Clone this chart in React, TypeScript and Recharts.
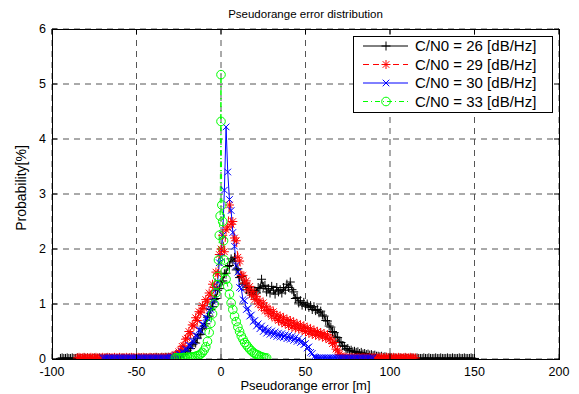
import React from 'react';
import { LineChart, Line, XAxis, YAxis, CartesianGrid } from 'recharts';

// ---------- axes / labels ----------
const TITLE = 'Pseudorange error distribution';
const X_LABEL = 'Pseudorange error [m]';
const Y_LABEL = 'Probability[%]';
const X_TICKS = [-100, -50, 0, 50, 100, 150, 200];
const Y_TICKS = [0, 1, 2, 3, 4, 5, 6];
const SERIES_NAMES = ['C/N0 = 26 [dB/Hz]', 'C/N0 = 29 [dB/Hz]', 'C/N0 = 30 [dB/Hz]', 'C/N0 = 33 [dB/Hz]'];

// ---------- series values (1 m bins) ----------
// C/N0 = 26, bins from -95 m to 150 m
const BLACK_START = -95;
const blackY = [
  0.01, 0.02, 0.01, 0.01, 0.02, 0.01, 0.01, 0.02, 0.01, 0.01,
  0.02, 0.01, 0.01, 0.01, 0.02, 0.01, 0.02, 0.01, 0.01, 0.01,
  0.02, 0.01, 0.01, 0.02, 0.01, 0.01, 0.01, 0.02, 0.01, 0.02,
  0.01, 0.01, 0.02, 0.01, 0.01, 0.02, 0.01, 0.02, 0.01, 0.01,
  0.01, 0.02, 0.01, 0.02, 0.01, 0.02, 0.01, 0.02, 0.02, 0.01,
  0.02, 0.02, 0.01, 0.02, 0.02, 0.02, 0.02, 0.03, 0.02, 0.02,
  0.03, 0.02, 0.03, 0.03, 0.03,
  // -30 .. -1
  0.03, 0.02, 0.05, 0.04, 0.06, 0.05, 0.08, 0.1, 0.09, 0.13,
  0.16, 0.2, 0.19, 0.26, 0.3, 0.29, 0.38, 0.44, 0.45, 0.55,
  0.6, 0.64, 0.76, 0.78, 0.9, 0.95, 1.08, 1.1, 1.25, 1.28,
  // 0 .. 20
  1.4, 1.42, 1.55, 1.56, 1.68, 1.7, 1.82, 1.78, 1.85, 1.62,
  1.64, 1.48, 1.5, 1.36, 1.38, 1.26, 1.3, 1.2, 1.25, 1.17, 1.24,
  // 21 .. 45
  1.2, 1.3, 1.28, 1.45, 1.32, 1.34, 1.22, 1.28, 1.2, 1.32,
  1.25, 1.18, 1.3, 1.22, 1.26, 1.2, 1.3, 1.25, 1.36, 1.3,
  1.4, 1.26, 1.22, 1.1, 1.12,
  // 46 .. 75
  1.02, 1.06, 0.98, 1.03, 0.96, 1.0, 0.94, 0.97, 0.9, 0.95,
  0.88, 0.9, 0.84, 0.87, 0.8, 0.78, 0.7, 0.69, 0.6, 0.58,
  0.5, 0.48, 0.4, 0.39, 0.31, 0.3, 0.24, 0.23, 0.18, 0.19,
  // 76 .. 100
  0.15, 0.16, 0.13, 0.14, 0.12, 0.13, 0.1, 0.12, 0.09, 0.1,
  0.08, 0.09, 0.07, 0.08, 0.06, 0.07, 0.05, 0.05, 0.04, 0.05,
  0.03, 0.04, 0.03, 0.02, 0.03,
  // 101 .. 150
  0.02, 0.01, 0.02, 0.01, 0.01, 0.02, 0.01, 0.01, 0.02, 0.01,
  0.01, 0.01, 0.02, 0.01, 0.01, 0.02, 0.01, 0.01, 0.01, 0.02,
  0.01, 0.01, 0.02, 0.01, 0.01, 0.01, 0.02, 0.01, 0.01, 0.02,
  0.01, 0.01, 0.01, 0.02, 0.01, 0.01, 0.02, 0.01, 0.01, 0.01,
  0.02, 0.01, 0.01, 0.02, 0.01, 0.01, 0.01, 0.02, 0.01, 0.01,
];

// C/N0 = 29, bins from -85 m to 115 m
const RED_START = -85;
const redY = [
  0.02, 0.03, 0.02, 0.02, 0.03, 0.02, 0.02, 0.02, 0.03, 0.02,
  0.02, 0.03, 0.02, 0.02, 0.02, 0.03, 0.02, 0.02, 0.03, 0.02,
  0.02, 0.02, 0.03, 0.02, 0.02, 0.03, 0.02, 0.02, 0.02, 0.03,
  0.02, 0.02, 0.03, 0.02, 0.02, 0.02, 0.03, 0.02, 0.02, 0.03,
  0.02, 0.02, 0.02, 0.03, 0.02, 0.02, 0.03, 0.02, 0.02, 0.02,
  0.03, 0.02, 0.03, 0.02, 0.03,
  // -30 .. -1
  0.03, 0.05, 0.04, 0.08, 0.08, 0.13, 0.15, 0.23, 0.24, 0.36,
  0.38, 0.5, 0.46, 0.62, 0.6, 0.75, 0.7, 0.86, 0.84, 0.97,
  0.92, 1.08, 1.04, 1.2, 1.16, 1.36, 1.3, 1.58, 1.55, 1.9,
  // 0 .. 12
  2.0, 2.25, 1.95, 2.35, 2.4, 2.8, 2.45, 2.5, 2.2, 2.15, 1.85, 1.78, 1.52,
  // 13 .. 72
  1.52, 1.38, 1.42, 1.26, 1.32, 1.16, 1.23, 1.08, 1.14, 1.0,
  1.06, 0.94, 1.02, 0.88, 0.95, 0.83, 0.9, 0.78, 0.86, 0.74,
  0.8, 0.7, 0.78, 0.66, 0.75, 0.64, 0.72, 0.61, 0.7, 0.58,
  0.67, 0.56, 0.64, 0.55, 0.62, 0.52, 0.6, 0.5, 0.57, 0.47,
  0.55, 0.45, 0.52, 0.43, 0.5, 0.42, 0.48, 0.4, 0.46, 0.38,
  0.44, 0.35, 0.38, 0.28, 0.3, 0.18, 0.16, 0.08, 0.06, 0.03,
  // 73 .. 115
  0.02, 0.03, 0.02, 0.02, 0.03, 0.02, 0.02, 0.02, 0.03, 0.02,
  0.02, 0.03, 0.02, 0.02, 0.02, 0.03, 0.02, 0.02, 0.03, 0.02,
  0.02, 0.02, 0.03, 0.02, 0.02, 0.03, 0.02, 0.02, 0.02, 0.03,
  0.02, 0.02, 0.03, 0.02, 0.02, 0.02, 0.03, 0.02, 0.02, 0.03,
  0.02, 0.02, 0.02,
];

// C/N0 = 30, bins from -70 m to 90 m
const BLUE_START = -70;
const blueY = [
  0.02, 0.02, 0.02, 0.02, 0.02, 0.02, 0.02, 0.02, 0.02, 0.02,
  0.02, 0.02, 0.02, 0.02, 0.02, 0.02, 0.02, 0.02, 0.02, 0.02,
  0.02, 0.02, 0.02, 0.02, 0.02, 0.02, 0.02, 0.02, 0.02, 0.02,
  0.02, 0.02, 0.02, 0.02, 0.02, 0.02, 0.02, 0.02, 0.02, 0.02,
  // -30 .. -1
  0.03, 0.04, 0.03, 0.06, 0.05, 0.09, 0.08, 0.13, 0.12, 0.18,
  0.17, 0.25, 0.24, 0.33, 0.32, 0.43, 0.42, 0.53, 0.52, 0.63,
  0.62, 0.75, 0.74, 0.88, 0.9, 1.05, 1.08, 1.28, 1.4, 1.75,
  // 0 .. 20
  1.85, 2.25, 3.07, 4.22, 3.4, 2.9, 2.7, 2.3, 2.05, 1.7,
  1.58, 1.3, 1.28, 1.08, 1.06, 0.9, 0.92, 0.78, 0.8, 0.68, 0.7,
  // 21 .. 56
  0.6, 0.64, 0.55, 0.6, 0.5, 0.56, 0.47, 0.53, 0.45, 0.51,
  0.43, 0.49, 0.41, 0.47, 0.4, 0.46, 0.39, 0.44, 0.37, 0.43,
  0.36, 0.41, 0.34, 0.39, 0.32, 0.37, 0.3, 0.33, 0.26, 0.28,
  0.2, 0.22, 0.12, 0.1, 0.04, 0.03,
  // 57 .. 90
  0.02, 0.02, 0.02, 0.02, 0.02, 0.02, 0.02, 0.02, 0.02, 0.02,
  0.02, 0.02, 0.02, 0.02, 0.02, 0.02, 0.02, 0.02, 0.02, 0.02,
  0.02, 0.02, 0.02, 0.02, 0.02, 0.02, 0.02, 0.02, 0.02, 0.02,
  0.02, 0.02, 0.02, 0.02,
];

// C/N0 = 33, finer bins near the spike
const greenX = [
  -27, -26, -25, -24, -23, -22, -21, -20, -19, -18, -17, -16, -15, -14, -13, -12, -11, -10,
  -9, -8, -7, -6, -5, -4, -3, -2.5, -2, -1.5, -1, -0.5, 0, 0, 0.5, 1, 1.5, 2, 2.5, 3,
  4, 5, 6, 7, 8, 9, 10, 11, 12, 13, 14, 15, 16, 17, 18, 19, 20, 21, 22, 23, 24, 25, 26, 27,
];
const greenY = [
  0.02, 0.02, 0.02, 0.02, 0.02, 0.03, 0.02, 0.03, 0.03, 0.03, 0.04, 0.04, 0.05, 0.06, 0.07, 0.09, 0.12, 0.16,
  0.22, 0.32, 0.48, 0.65, 0.82, 1.0, 1.2, 1.35, 1.5, 1.8, 2.25, 2.6, 5.17, 4.32, 2.8, 2.5, 2.15, 1.8, 1.6, 1.45,
  1.32, 1.18, 1.02, 0.9, 0.78, 0.68, 0.58, 0.5, 0.42, 0.36, 0.3, 0.26, 0.22, 0.18, 0.15, 0.12, 0.1, 0.08, 0.07, 0.05, 0.04, 0.03, 0.02, 0.02,
];

// ---------- build tables ----------
const blackData = blackY.map((y, i) => ({ x: BLACK_START + i, y }));
const redData = redY.map((y, i) => ({ x: RED_START + i, y }));
const blueData = blueY.map((y, i) => ({ x: BLUE_START + i, y }));
const greenData = greenY.map((y, i) => ({ x: greenX[i], y }));

// ---------- layout ----------
const W = 579;
const H = 394;
const PL = 52, PR = 559, PT = 29, PB = 359;
const FONT = '"Liberation Sans", Arial, sans-serif';
const COLORS = ['#000000', '#ff0000', '#0000ff', '#00ff00'];
const DASHES = [undefined, '6 4', undefined, '5 3 1 3'];

type MarkerKind = 'plus' | 'star' | 'cross' | 'circle';
const KINDS: MarkerKind[] = ['plus', 'star', 'cross', 'circle'];

function markerPath(kind: MarkerKind, cx: number, cy: number) {
  const s = 4.5;
  const d = 3.3;
  if (kind === 'plus') return `M${cx - s},${cy}H${cx + s}M${cx},${cy - s}V${cy + s}`;
  if (kind === 'cross') return `M${cx - d},${cy - d}L${cx + d},${cy + d}M${cx - d},${cy + d}L${cx + d},${cy - d}`;
  return `M${cx - s},${cy}H${cx + s}M${cx},${cy - s}V${cy + s}M${cx - d},${cy - d}L${cx + d},${cy + d}M${cx - d},${cy + d}L${cx + d},${cy - d}`;
}

function Marker({ kind, cx, cy, color }: { kind: MarkerKind; cx: number; cy: number; color: string }) {
  if (kind === 'circle') return <circle cx={cx} cy={cy} r={4.3} fill="none" stroke={color} strokeWidth={1} />;
  return <path d={markerPath(kind, cx, cy)} stroke={color} strokeWidth={1} fill="none" />;
}

const makeDot = (kind: MarkerKind, color: string) => (p: any) => {
  const { cx, cy, index } = p;
  if (cx == null || cy == null) return <g key={`e${kind}${index}`} />;
  return (
    <g key={`${kind}${index}`}>
      <Marker kind={kind} cx={cx} cy={cy} color={color} />
    </g>
  );
};

const XTick = (p: any) => {
  const { x, payload } = p;
  return (
    <g>
      <line x1={x} x2={x} y1={PB} y2={PB - 5} stroke="#000" strokeWidth={1} />
      <line x1={x} x2={x} y1={PT} y2={PT + 5} stroke="#000" strokeWidth={1} />
      <text x={x} y={PB + 17} textAnchor="middle" fontFamily={FONT} fontSize={12.5} fill="#000">
        {payload.value}
      </text>
    </g>
  );
};

const YTick = (p: any) => {
  const { y, payload } = p;
  return (
    <g>
      <line x1={PL} x2={PL + 5} y1={y} y2={y} stroke="#000" strokeWidth={1} />
      <line x1={PR} x2={PR - 5} y1={y} y2={y} stroke="#000" strokeWidth={1} />
      <text x={PL - 6} y={y + 3.5} textAnchor="end" fontFamily={FONT} fontSize={12.5} fill="#000">
        {payload.value}
      </text>
    </g>
  );
};

function LegendBox() {
  const rowY = [10, 28.5, 47, 65.5];
  return (
    <svg width={200} height={77} style={{ display: 'block' }}>
      <rect x={0.5} y={0.5} width={199} height={76} fill="#fff" stroke="#000" strokeWidth={1} />
      {SERIES_NAMES.map((name, i) => (
        <g key={name}>
          <line x1={10} x2={55} y1={rowY[i]} y2={rowY[i]} stroke={COLORS[i]} strokeWidth={1} strokeDasharray={DASHES[i]} />
          <Marker kind={KINDS[i]} cx={33} cy={rowY[i]} color={COLORS[i]} />
          <text x={62} y={rowY[i] + 5.3} fontFamily={FONT} fontSize={15} fill="#000">
            {name}
          </text>
        </g>
      ))}
    </svg>
  );
}

export default function App() {
  const datasets = [blackData, redData, blueData, greenData];
  return (
    <div style={{ position: 'absolute', left: 0, top: 0, width: W, height: H, background: '#fff' }}>
      <LineChart width={W} height={H} margin={{ top: PT, right: W - PR, bottom: 0, left: 0 }}>
        <CartesianGrid stroke="#555" strokeDasharray="6 5" strokeWidth={1} />
        <XAxis
          dataKey="x"
          type="number"
          domain={[-100, 200]}
          ticks={X_TICKS}
          allowDataOverflow
          height={H - PB}
          axisLine={false}
          tickLine={false}
          tick={<XTick />}
          interval={0}
        />
        <YAxis
          type="number"
          domain={[0, 6]}
          ticks={Y_TICKS}
          allowDataOverflow
          width={PL}
          axisLine={false}
          tickLine={false}
          tick={<YTick />}
          interval={0}
        />
        {datasets.map((d, i) => (
          <Line
            key={SERIES_NAMES[i]}
            data={d}
            dataKey="y"
            name={SERIES_NAMES[i]}
            stroke={COLORS[i]}
            strokeWidth={1}
            strokeDasharray={DASHES[i]}
            dot={makeDot(KINDS[i], COLORS[i])}
            activeDot={false}
            isAnimationActive={false}
            type="linear"
          />
        ))}
      </LineChart>
      <div
        style={{
          position: 'absolute', left: PL, top: PT, width: PR - PL + 1, height: PB - PT + 1,
          border: '1px solid #000', boxSizing: 'border-box', pointerEvents: 'none',
        }}
      />
      <div style={{ position: 'absolute', left: 353, top: 36 }}>
        <LegendBox />
      </div>
      <div
        style={{
          position: 'absolute', left: PL, width: PR - PL, top: 7, textAlign: 'center',
          fontFamily: FONT, fontSize: 11.5, color: '#000', lineHeight: '14px',
        }}
      >
        {TITLE}
      </div>
      <div
        style={{
          position: 'absolute', left: PL, width: PR - PL, top: 378, textAlign: 'center',
          fontFamily: FONT, fontSize: 13, color: '#000', lineHeight: '16px',
        }}
      >
        {X_LABEL}
      </div>
      <div
        style={{
          position: 'absolute', left: 21, top: 188, width: 0, height: 0, overflow: 'visible',
        }}
      >
        <div
          style={{
            position: 'absolute', left: -60, top: -8, width: 120, textAlign: 'center',
            transform: 'rotate(-90deg)', fontFamily: FONT, fontSize: 14, color: '#000',
            lineHeight: '16px', whiteSpace: 'nowrap',
          }}
        >
          {Y_LABEL}
        </div>
      </div>
    </div>
  );
}
